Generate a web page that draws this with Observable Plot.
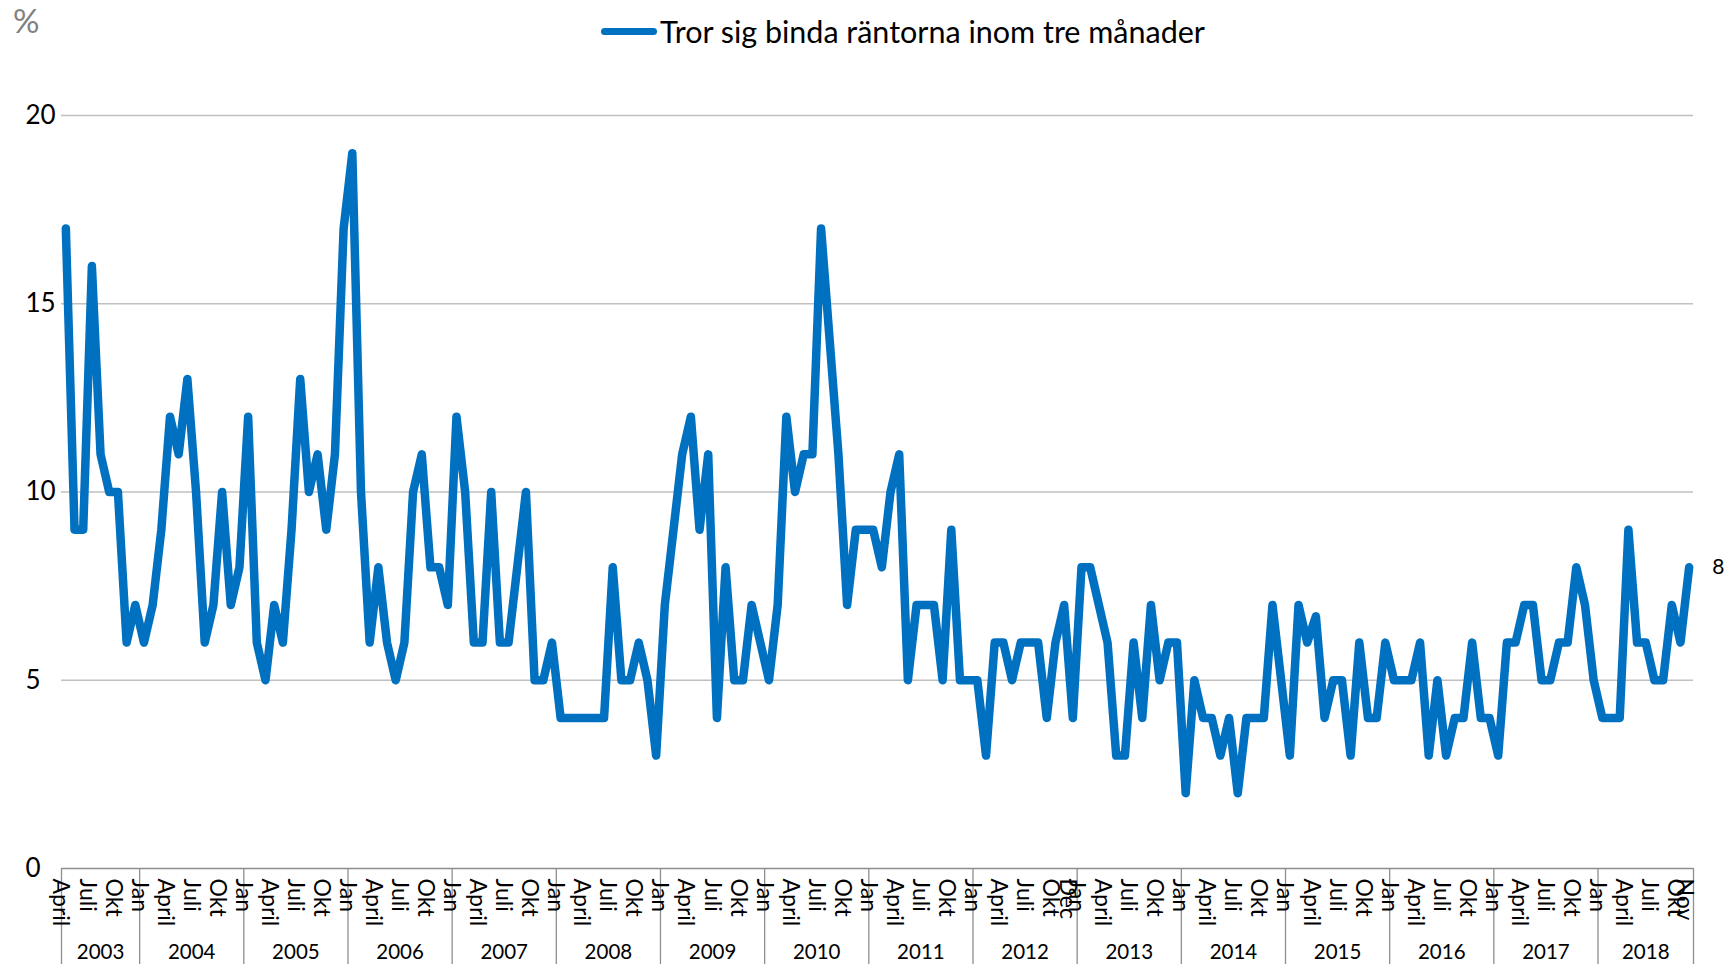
<!DOCTYPE html>
<html><head><meta charset="utf-8">
<script src="https://cdn.jsdelivr.net/npm/d3@7"></script>
<script src="https://cdn.jsdelivr.net/npm/@observablehq/plot@0.6"></script>
<style>
body{margin:0;background:#fff;font-family:Lato,"Open Sans",sans-serif;}
#wrap{position:relative;width:1730px;height:964px;overflow:hidden;background:#fff}
#pct{position:absolute;left:13px;top:4px;font-size:33px;color:#808080;line-height:1}
#legend{position:absolute;left:601px;top:11px;display:flex;align-items:center;font-size:30.5px;color:#000;line-height:40px;white-space:nowrap}
#legend .sw{display:inline-block;width:56px;height:7px;background:#0070c0;border-radius:4px;margin-right:3px}
#chart{position:absolute;left:0;top:0}
</style></head><body>
<div id="wrap">
  <div id="chart"></div>
  <div id="pct">%</div>
  <div id="legend"><span class="sw"></span><span id="legtext"></span></div>
</div>
<script>
// ---- data ----
const seriesName = "Tror sig binda räntorna inom tre månader";
const years = [2003,2004,2005,2006,2007,2008,2009,2010,2011,2012,2013,2014,2015,2016,2017,2018];
const monthNames = ["Jan","Feb","Mars","April","Maj","Juni","Juli","Aug","Sep","Okt","Nov","Dec"];
const firstMonth2003 = 3; // April
const v2003 = [17,9,9,16,11,10,10,6,7];
const v2004 = [6,7,9,12,11,13,10,6,7,10,7,8];
const v2005 = [12,6,5,7,6,9,13,10,11,9,11,17];
const v2006 = [19,10,6,8,6,5,6,10,11,8,8,7];
const v2007 = [12,10,6,6,10,6,6,8,10,5,5,6];
const v2008 = [4,4,4,4,4,4,8,5,5,6,5,3];
const v2009 = [7,9,11,12,9,11,4,8,5,5,7,6];
const v2010 = [5,7,12,10,11,11,17,14,11,7,9,9];
const v2011 = [9,8,10,11,5,7,7,7,5,9,5,5];
const v2012 = [5,3,6,6,5,6,6,6,4,6,7,4];
const v2013 = [8,8,7,6,3,3,6,4,7,5,6,6];
const v2014 = [2,5,4,4,3,4,2,4,4,4,7,5];
const v2015 = [3,7,6,6.7,4,5,5,3,6,4,4,6];
const v2016 = [5,5,5,6,3,5,3,4,4,6,4,4];
const v2017 = [3,6,6,7,7,5,5,6,6,8,7,5];
const v2018 = [4,4,4,9,6,6,5,5,7,6,8];
const series = [v2003,v2004,v2005,v2006,v2007,v2008,v2009,v2010,v2011,v2012,v2013,v2014,v2015,v2016,v2017,v2018];
const extraMonthLabels = [[2012, 11], [2018, 10]]; // Dec 2012, Nov 2018
const yTicks = [0,5,10,15,20];

// ---- build ----
document.getElementById("legtext").textContent = seriesName;
const data = [];
years.forEach((yr, k) => {
  const m0 = yr === 2003 ? firstMonth2003 : 0;
  series[k].forEach((v, j) => data.push({i: data.length, year: yr, month: m0 + j, value: v}));
});
const n = data.length;
const labelTicks = data.filter(d => d.month % 3 === 0 || extraMonthLabels.some(([y, m]) => y === d.year && m === d.month)).map(d => d.i);
const groups = d3.groups(data, d => d.year);
const yearCenters = groups.map(([y, rows]) => (rows[0].i + rows[rows.length - 1].i) / 2);
const centerToYear = new Map(groups.map(([y, rows], k) => [yearCenters[k], y]));
const boundaries = groups.map(([y, rows]) => rows[0].i - 0.5).concat([n - 0.5]);

const chart = Plot.plot({
  width: 1730, height: 964,
  marginLeft: 61, marginRight: 37, marginTop: 115, marginBottom: 96,
  style: {fontFamily: "Lato, sans-serif", background: "transparent", overflow: "visible"},
  x: {domain: [-0.5, n - 0.5], axis: null},
  y: {domain: [0, 20], axis: null},
  marks: [
    Plot.ruleY([5, 10, 15, 20], {stroke: "#c0c0c0", strokeWidth: 1.6}),
    Plot.ruleY([0], {stroke: "#8e8e8e", strokeWidth: 1.4}),
    Plot.axisY({ticks: yTicks, label: null, tickSize: 0, tickPadding: 36, textAnchor: "start", fontSize: 26, fill: "#000", tickFormat: d => String(d)}),
    Plot.axisX({ticks: boundaries, label: null, tickSize: 96, tickFormat: () => "", stroke: "#8e8e8e", strokeWidth: 1.3}),
    Plot.axisX({ticks: labelTicks, label: null, tickFormat: i => monthNames[data[i].month], tickRotate: 90, tickSize: 0, tickPadding: 10, dx: -5, fontSize: 23, fill: "#000"}),
    Plot.axisX({ticks: yearCenters, label: null, tickFormat: c => String(centerToYear.get(c)), tickSize: 0, tickPadding: 76, fontSize: 20.5, fill: "#000"}),
    Plot.line(data, {x: "i", y: "value", stroke: "#0070c0", strokeWidth: 8.5, strokeLinejoin: "round", strokeLinecap: "round"}),
    Plot.text(data.slice(-1), {x: "i", y: "value", text: d => String(d.value), dx: 23, textAnchor: "start", fontSize: 21, fill: "#000"})
  ]
});
document.getElementById("chart").appendChild(chart);
</script>
</body></html>
